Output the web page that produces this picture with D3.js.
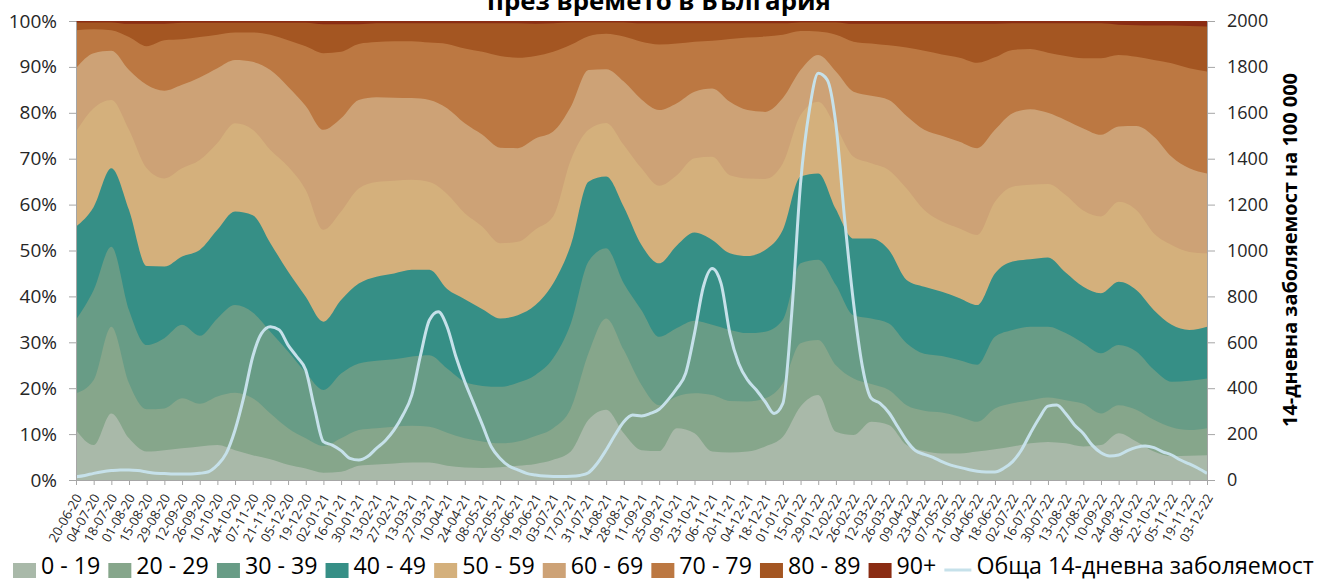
<!DOCTYPE html>
<html><head><meta charset="utf-8">
<script src="https://cdn.jsdelivr.net/npm/d3@7"></script>
<style>
html,body{margin:0;padding:0;background:#fff;}
svg{display:block;font-family:"Open Sans","Noto Sans",sans-serif;}
</style></head><body>
<svg id="c" width="1318" height="581"></svg>
<script>
// ---------- DATA ----------
const tickLabels = ["20-06-20","04-07-20","18-07-20","01-08-20","15-08-20","29-08-20","12-09-20","26-09-20","10-10-20","24-10-20","07-11-20","21-11-20","05-12-20","19-12-20","02-01-21","16-01-21","30-01-21","13-02-21","27-02-21","13-03-21","27-03-21","10-04-21","24-04-21","08-05-21","22-05-21","05-06-21","19-06-21","03-07-21","17-07-21","31-07-21","14-08-21","28-08-21","11-09-21","25-09-21","09-10-21","23-10-21","06-11-21","20-11-21","04-12-21","18-12-21","01-01-22","15-01-22","29-01-22","12-02-22","26-02-22","12-03-22","26-03-22","09-04-22","23-04-22","07-05-22","21-05-22","04-06-22","18-06-22","02-07-22","16-07-22","30-07-22","13-08-22","27-08-22","10-09-22","24-09-22","08-10-22","22-10-22","05-11-22","19-11-22","03-12-22"];

const ageGroups = ["0 - 19","20 - 29","30 - 39","40 - 49","50 - 59","60 - 69","70 - 79","80 - 89","90+"];

// share of cases (%) per age group, one value per tick date
const age0_19 = [10.9,7.6,14.5,9.1,6.2,6.5,6.9,7.3,7.6,6.5, 5.4,4.5,3.3,2.5,1.6,1.8,3.1,3.4,3.6,3.8, 3.8,3.1,2.7,2.6,2.8,3.1,3.5,4.4,6.2,13.1, 15.3,10.2,6.5,6.3,11.3,10.2,6.2,6.0,6.2,7.3, 9.4,16.0,18.5,10.5,9.8,12.7,12.0,7.6,6.3,5.8, 5.8,6.2,6.7,7.3,8.0,8.3,8.0,7.3,7.6,10.2, 8.4,6.2,5.2,5.3,5.4];
const age20_29 = [8.0,14.2,18.9,12.0,9.2,9.1,10.9,9.3,10.6,12.5, 12.4,10.0,8.0,6.6,5.8,7.3,7.8,7.9,8.0,8.0, 7.8,7.2,6.4,5.8,5.2,5.3,6.1,6.9,9.4,14.5, 19.9,18.1,14.2,10.0,6.9,8.7,12.3,11.2,10.9,10.5, 11.7,13.8,12.0,14.5,12.3,8.2,7.6,8.7,8.8,8.9, 8.0,6.5,8.9,9.4,9.4,9.7,9.4,9.3,6.9,6.1, 6.9,6.9,6.3,5.6,5.9];
const age30_39 = [16.0,19.6,17.4,15.9,14.0,15.3,16.0,14.8,17.0,19.1, 18.7,17.8,16.7,14.3,12.2,14.1,14.5,14.7,14.7,15.1, 15.6,14.0,12.3,12.1,12.3,12.8,13.3,15.2,18.5,20.0, 15.3,14.5,16.3,14.9,14.9,15.8,15.3,15.5,14.9,14.5, 13.8,17.4,17.5,17.5,13.8,14.3,14.5,13.5,12.4,12.3, 12.3,12.4,15.6,16.0,16.0,15.4,14.6,13.2,13.1,13.1, 12.7,10.9,9.9,10.7,10.8];
const age40_49 = [20.3,18.1,17.1,21.8,17.2,15.6,14.9,18.7,19.3,20.4, 21.2,19.3,17.4,16.5,14.9,16.0,17.4,18.3,18.7,18.9, 18.6,17.3,18.0,16.7,14.9,14.7,15.2,16.3,17.1,17.4, 15.6,16.7,14.2,16.0,18.0,19.2,18.5,16.7,16.8,17.8, 19.6,18.9,18.8,16.5,16.7,17.4,16.0,13.8,14.6,14.0, 13.5,13.0,13.8,14.9,14.7,15.1,13.2,12.3,13.1,13.8, 13.4,13.0,12.4,11.1,11.3];
const age50_59 = [20.7,21.5,14.9,17.5,21.3,19.2,19.2,19.6,18.9,19.2, 18.6,20.3,22.9,23.3,20.0,19.3,20.7,20.6,20.2,19.6, 19.1,20.7,18.7,18.0,16.4,16.0,16.5,14.6,18.5,11.3, 11.7,13.5,16.7,16.9,15.3,16.2,18.1,17.0,16.9,15.5, 14.5,13.4,15.6,18.0,17.8,16.4,17.4,19.9,16.7,15.3, 15.2,15.3,15.6,16.3,16.2,16.0,16.9,16.6,16.7,17.4, 17.4,16.7,17.4,17.0,16.0];
const age60_69 = [13.8,12.0,10.7,13.0,18.2,19.1,18.2,18.0,16.3,13.8, 14.8,17.4,17.4,18.3,21.8,20.3,19.3,18.5,18.1,17.8, 17.9,18.7,19.6,20.0,20.8,20.4,19.8,18.5,11.6,13.0, 11.7,13.8,15.0,16.5,15.7,14.5,14.9,16.0,14.9,14.6, 14.2,9.8,10.2,12.0,14.2,14.7,15.3,15.8,17.5,18.7, 18.9,18.9,15.7,16.0,16.5,15.5,16.3,17.9,17.8,16.4, 18.3,21.1,19.2,18.2,17.4];
const age70_79 = [8.3,5.2,4.5,7.2,8.4,11.0,9.9,8.8,7.3,6.0, 6.4,7.7,10.1,13.0,16.7,14.5,12.2,12.0,12.3,12.4, 12.5,14.0,16.3,18.1,20.0,19.7,18.0,17.4,13.5,7.4, 7.7,9.8,12.6,14.3,13.0,10.9,10.4,13.7,15.8,16.4, 13.8,8.5,5.1,8.0,10.9,11.4,11.9,14.9,17.2,17.7, 18.3,18.6,15.8,13.8,13.1,13.1,14.0,15.3,16.7,15.6, 15.1,16.7,20.4,21.8,22.2];
const age80_89 = [1.7,1.5,1.7,2.9,4.9,3.6,3.6,3.1,2.6,2.1, 2.1,2.6,3.8,5.1,6.3,6.0,4.3,4.1,3.9,3.9, 4.2,4.5,5.5,6.2,7.1,7.5,7.0,6.2,4.9,3.0, 2.5,3.1,4.0,4.6,4.4,4.0,3.8,3.4,3.1,2.9, 2.5,1.9,2.0,2.7,3.9,4.3,4.7,5.2,5.9,6.7, 7.4,8.5,7.3,5.8,5.6,6.4,7.1,7.6,7.6,6.6, 6.9,7.5,8.2,9.2,9.8];
const age90plus = [0.3,0.3,0.3,0.6,0.6,0.6,0.4,0.4,0.4,0.4, 0.4,0.4,0.4,0.4,0.7,0.7,0.7,0.5,0.5,0.5, 0.5,0.5,0.5,0.5,0.5,0.5,0.6,0.5,0.3,0.3, 0.3,0.3,0.5,0.5,0.5,0.5,0.5,0.5,0.5,0.5, 0.5,0.3,0.3,0.3,0.6,0.6,0.6,0.6,0.6,0.6, 0.6,0.6,0.6,0.5,0.5,0.5,0.5,0.5,0.5,0.8, 0.9,1.0,1.0,1.1,1.2];

// 14-day incidence per 100 000, weekly from 20-06-20
const incidence = [14,20,29,36,41,44,44,41,35,29, 28,26,26,26,29,36,65,116,218,363, 537,639,668,654,588,537,479,312,167,152, 128,94,87,102,138,171,218,283,370,545, 697,733,668,537,428,334,240,145,94,61, 44,29,22,17,15,15,16,20,32,73, 131,196,254,283,279,290,308,349,399,465, 639,842,922,857,639,508,436,392,341,290, 334,726,1293,1612,1772,1745,1550,1133,770,494, 356,334,293,232,171,128,112,99,80,65, 55,46,38,35,35,51,80,131,203,269, 322,327,290,240,203,152,119,105,109,128, 142,148,141,123,109,87,70,51,29];

const leftTicks = [0,0.1,0.2,0.3,0.4,0.5,0.6,0.7,0.8,0.9,1];
const rightTicks = [0,200,400,600,800,1000,1200,1400,1600,1800,2000];
const lineLabel = "Обща 14-дневна заболяемост";
const rightTitle = "14-дневна заболяемост на 100 000";
const titleText = "през времето в България";

const colors = ["#a9b9a9","#86a68b","#689c86","#368f86","#d4b07c","#cda276","#bc7842","#a45622","#8a2c13"];
const lineColor = "#c6e1ea";

// ---------- CHART ----------
const svg = d3.select("#c");
const plot = {left:76, right:1207, top:21, bottom:480};
const parse = d3.timeParse("%d-%m-%y");
const dates = tickLabels.map(parse);
const x = d3.scaleTime().domain([dates[0], dates[dates.length-1]]).range([plot.left, plot.right]);
const yL = d3.scaleLinear().domain([0,1]).range([plot.bottom, plot.top]);
const yR = d3.scaleLinear().domain([0,2000]).range([plot.bottom, plot.top]);

const seriesArrays = [age0_19,age20_29,age30_39,age40_49,age50_59,age60_69,age70_79,age80_89,age90plus];
const rows = dates.map((d,i)=>{const r={date:d}; ageGroups.forEach((g,j)=>r[g]=seriesArrays[j][i]); return r;});
const layers = d3.stack().keys(ageGroups).offset(d3.stackOffsetExpand)(rows);

const area = d3.area()
  .x(d=>x(d.data.date))
  .y0(yL(0))
  .y1(d=>yL(d[1]))
  .curve(d3.curveMonotoneX);

svg.append("g").selectAll("path")
  .data(layers.slice().reverse())
  .join("path")
  .attr("d", area)
  .attr("fill", d=>colors[d.index]);

// line
const lineDates = d3.timeDay.range(dates[0], d3.timeDay.offset(dates[dates.length-1],1), 7);
const line = d3.line().x((d,i)=>x(lineDates[i])).y(d=>yR(d)).curve(d3.curveMonotoneX);
svg.append("path").datum(incidence).attr("d", line)
  .attr("fill","none").attr("stroke",lineColor).attr("stroke-width",3).attr("stroke-linejoin","round");

// axes
const axisColor = "#a6a6a6";
const textColor = "#262626";
const gL = svg.append("g").attr("transform",`translate(${plot.left},0)`)
  .call(d3.axisLeft(yL).tickValues(leftTicks).tickFormat(d3.format(".0%")).tickSize(7).tickSizeOuter(0).tickPadding(12));
const gR = svg.append("g").attr("transform",`translate(${plot.right},0)`)
  .call(d3.axisRight(yR).tickValues(rightTicks).tickFormat(d3.format("d")).tickSize(8).tickSizeOuter(0).tickPadding(12));
const gX = svg.append("g").attr("transform",`translate(0,${plot.bottom})`)
  .call(d3.axisBottom(x).tickValues(dates).tickFormat((d,i)=>tickLabels[i]).tickSize(5).tickSizeOuter(0));

[gL,gR,gX].forEach(g=>{
  g.select(".domain").attr("stroke",axisColor);
  g.selectAll(".tick line").attr("stroke",axisColor);
  g.selectAll("text").attr("fill",textColor).attr("font-family",'"Open Sans",sans-serif');
});
gL.selectAll("text").attr("font-size",19);
gR.selectAll("text").attr("font-size",18);
gX.selectAll("text")
  .attr("font-size",13)
  .attr("text-anchor","end")
  .attr("x",0).attr("y",0).attr("dy","0.35em")
  .attr("transform","translate(2,15) rotate(-60)");

// right axis title
const rt = svg.append("text")
  .attr("transform","translate(1290,250) rotate(-90)")
  .attr("text-anchor","middle").attr("dy","0.35em")
  .attr("font-weight","bold").attr("font-size",18).attr("fill","#000")
  .text(rightTitle);
const rtw = rt.node().getComputedTextLength();
rt.attr("font-size", 18*354/rtw);

// title (second line, partially cut off at the top as in the original)
const tt = svg.append("text")
  .attr("x",659).attr("y",10).attr("text-anchor","middle")
  .attr("font-weight","bold").attr("font-size",22).attr("fill","#000")
  .text(titleText);
const ttw = tt.node().getComputedTextLength();
tt.attr("font-size", 22*344/ttw);

// legend
const legendItems = ageGroups.map((g,i)=>({label:g, type:"rect", color:colors[i]}))
  .concat([{label:lineLabel, type:"line", color:lineColor}]);
const lg = svg.append("g");
const baseF = 20;
const texts = legendItems.map(it=>lg.append("text").attr("font-size",baseF).attr("fill","#000").attr("dy","0.35em").text(it.label));
const widths = texts.map(t=>t.node().getComputedTextLength());
const symW = it=> it.type==="rect" ? 23 : 27;
const gapSym = 5, gapItem = 8;
const fixed = d3.sum(legendItems, symW) + legendItems.length*gapSym + (legendItems.length-1)*gapItem;
const f = baseF*(1301-fixed)/d3.sum(widths);
let cx = 13;
const ly = 570;
legendItems.forEach((it,i)=>{
  if(it.type==="rect"){
    lg.append("rect").attr("x",cx).attr("y",ly-7).attr("width",23).attr("height",15).attr("fill",it.color);
  } else {
    lg.append("line").attr("x1",cx).attr("x2",cx+27).attr("y1",ly).attr("y2",ly).attr("stroke",it.color).attr("stroke-width",3);
  }
  cx += symW(it) + gapSym;
  texts[i].attr("font-size",f).attr("x",cx).attr("y",ly-4);
  cx += widths[i]*f/baseF + gapItem;
});
</script>
</body></html>
